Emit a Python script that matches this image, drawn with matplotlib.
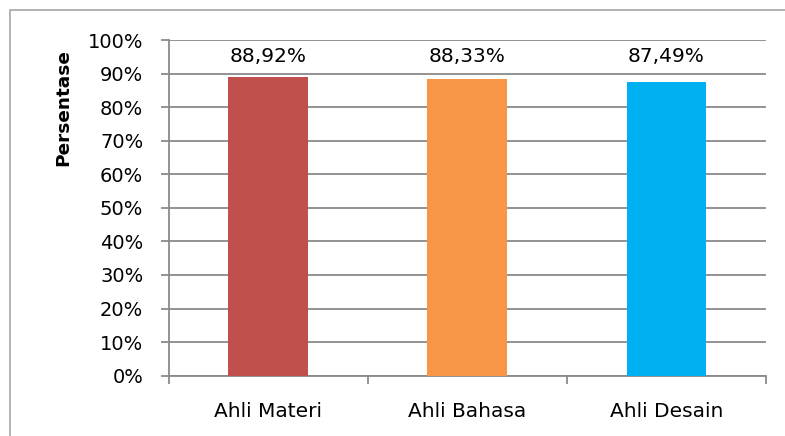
import matplotlib
matplotlib.use("Agg")
import matplotlib.pyplot as plt
from matplotlib.patches import Rectangle
from matplotlib.ticker import FuncFormatter, MultipleLocator

categories = ["Ahli Materi", "Ahli Bahasa", "Ahli Desain"]
values = [88.92, 88.33, 87.49]
labels = ["88,92%", "88,33%", "87,49%"]
colors = ["#C0504D", "#F79646", "#00B0F0"]
y_label = "Persentase"

plt.rcParams['font.family'] = ['DejaVu Sans']

fig = plt.figure(figsize=(7.85, 4.36), dpi=100)
W, H = 785, 436
ax_left, ax_right, ax_top, ax_bottom = 168.5, 766, 40, 375.7
ax = fig.add_axes([ax_left / W, 1 - ax_bottom / H, (ax_right - ax_left) / W, (ax_bottom - ax_top) / H])

grid_c = '#8A8A8A'
x = list(range(len(categories)))
ax.bar(x, values, width=0.40, color=colors, zorder=3)
for xi, lab in zip(x, labels):
    ax.text(xi, 93.4, lab, ha='center', va='baseline', fontsize=14.5, color='#000000', zorder=4)

ax.set_xlim(-0.5, 2.5)
ax.set_ylim(0, 100)
ax.yaxis.set_major_locator(MultipleLocator(10))
ax.yaxis.set_major_formatter(FuncFormatter(lambda v, p: f"{int(round(v))}%"))
ax.grid(axis='y', color=grid_c, linewidth=1.3, zorder=0)
ax.set_xticks([-0.5, 0.5, 1.5, 2.5], minor=False)
ax.set_xticklabels([])
ax.set_xticks(x, minor=True)
ax.set_xticklabels(categories, minor=True)
for lbl in ax.get_xticklabels(minor=True):
    lbl.set_verticalalignment('baseline')
ax.tick_params(axis='x', which='major', length=6, width=1.3, color=grid_c, direction='out')
ax.tick_params(axis='x', which='minor', length=0, pad=30, labelsize=14.5)
ax.tick_params(axis='y', length=6.1, width=1.3, color=grid_c, labelsize=14, pad=12)
for s in ['top', 'right']:
    ax.spines[s].set_visible(False)
for s in ['left', 'bottom']:
    ax.spines[s].set_color(grid_c)
    ax.spines[s].set_linewidth(1.3)

fig.text(63 / W, 1 - 108 / H, y_label, rotation=90, ha='center', va='center',
         fontsize=13.3, fontweight='bold', color='#000000')

fig.patches.append(Rectangle((10 / W, -0.02), 1.0, (H - 10) / H + 0.02,
                             transform=fig.transFigure, fill=False,
                             edgecolor='#A6A6A6', linewidth=1.2))

fig.savefig("out.png", dpi=100)
